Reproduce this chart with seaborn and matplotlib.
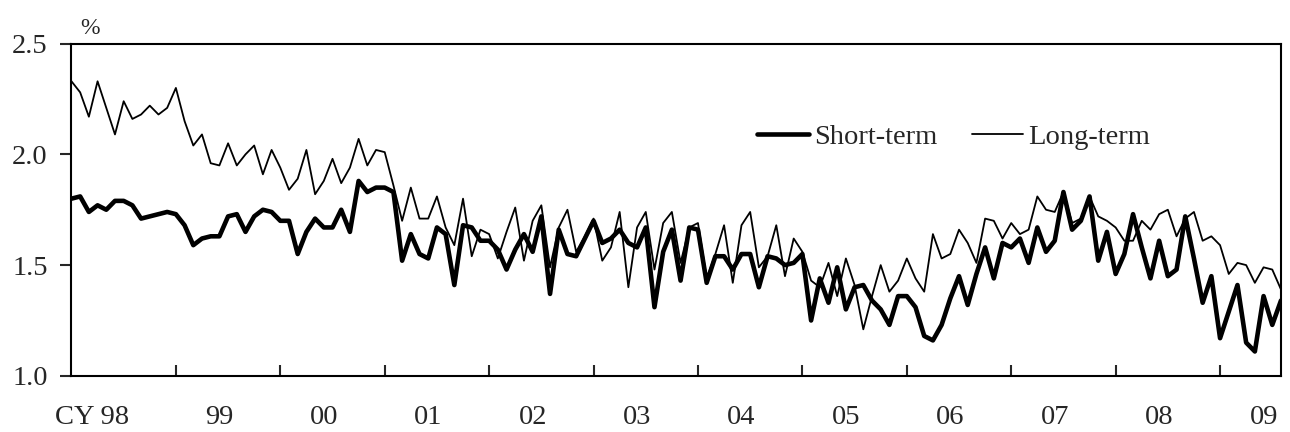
import matplotlib
matplotlib.use("Agg")
import matplotlib.pyplot as plt
import matplotlib.transforms as mtransforms
from matplotlib.ticker import FormatStrFormatter
import numpy as np
import pandas as pd
import seaborn as sns

# monthly rates (%), Jan 1998 onwards
short_term = [
    1.80, 1.81, 1.74, 1.77, 1.75, 1.79, 1.79, 1.77, 1.71, 1.72, 1.73, 1.74,
    1.73, 1.68, 1.59, 1.62, 1.63, 1.63, 1.72, 1.73, 1.65, 1.72, 1.75, 1.74,
    1.70, 1.70, 1.55, 1.65, 1.71, 1.67, 1.67, 1.75, 1.65, 1.88, 1.83, 1.85,
    1.85, 1.83, 1.52, 1.64, 1.55, 1.53, 1.67, 1.64, 1.41, 1.68, 1.67, 1.61,
    1.61, 1.57, 1.48, 1.57, 1.64, 1.56, 1.72, 1.37, 1.66, 1.55, 1.54, 1.62,
    1.70, 1.60, 1.62, 1.66, 1.60, 1.58, 1.67, 1.31, 1.56, 1.66, 1.43, 1.67,
    1.66, 1.42, 1.54, 1.54, 1.48, 1.55, 1.55, 1.40, 1.54, 1.53, 1.50, 1.51,
    1.55, 1.25, 1.44, 1.33, 1.49, 1.30, 1.40, 1.41, 1.34, 1.30, 1.23, 1.36,
    1.36, 1.31, 1.18, 1.16, 1.23, 1.35, 1.45, 1.32, 1.46, 1.58, 1.44, 1.60,
    1.58, 1.62, 1.51, 1.67, 1.56, 1.61, 1.83, 1.66, 1.70, 1.81, 1.52, 1.65,
    1.46, 1.55, 1.73, 1.58, 1.44, 1.61, 1.45, 1.48, 1.72, 1.53, 1.33, 1.45,
    1.17, 1.29, 1.41, 1.15, 1.11, 1.36, 1.23, 1.34,
]
long_term = [
    2.33, 2.28, 2.17, 2.33, 2.21, 2.09, 2.24, 2.16, 2.18, 2.22, 2.18, 2.21,
    2.30, 2.15, 2.04, 2.09, 1.96, 1.95, 2.05, 1.95, 2.00, 2.04, 1.91, 2.02,
    1.94, 1.84, 1.89, 2.02, 1.82, 1.88, 1.98, 1.87, 1.94, 2.07, 1.95, 2.02,
    2.01, 1.86, 1.70, 1.85, 1.71, 1.71, 1.81, 1.67, 1.59, 1.80, 1.54, 1.66,
    1.64, 1.53, 1.65, 1.76, 1.52, 1.70, 1.77, 1.49, 1.67, 1.75, 1.56, 1.63,
    1.71, 1.52, 1.58, 1.74, 1.40, 1.67, 1.74, 1.48, 1.69, 1.74, 1.51, 1.67,
    1.69, 1.44, 1.55, 1.68, 1.42, 1.68, 1.74, 1.49, 1.54, 1.68, 1.45, 1.62,
    1.56, 1.43, 1.40, 1.51, 1.36, 1.53, 1.41, 1.21, 1.36, 1.50, 1.38, 1.43,
    1.53, 1.44, 1.38, 1.64, 1.53, 1.55, 1.66, 1.60, 1.51, 1.71, 1.70, 1.62,
    1.69, 1.64, 1.66, 1.81, 1.75, 1.74, 1.83, 1.69, 1.71, 1.81, 1.72, 1.70,
    1.67, 1.61, 1.61, 1.70, 1.66, 1.73, 1.75, 1.63, 1.71, 1.74, 1.61, 1.63,
    1.59, 1.46, 1.51, 1.50, 1.42, 1.49, 1.48, 1.39,
]
year_labels = ["CY 98", "99", "00", "01", "02", "03", "04", "05", "06", "07", "08", "09"]
y_ticks = [1.0, 1.5, 2.0, 2.5]

n = len(short_term)
df = pd.DataFrame({"month": np.arange(n), "Short-term": short_term, "Long-term": long_term})

sns.set_style("ticks")
plt.rcParams["font.family"] = ["Liberation Serif", "DejaVu Serif"]
fs = 20.5

fig, ax = plt.subplots(figsize=(12.9, 4.32), dpi=100)
fig.subplots_adjust(left=0.0554, right=0.993, top=0.899, bottom=0.130)

sns.lineplot(data=df, x="month", y="Short-term", color="black", linewidth=3.3, ax=ax, label="Short-term")
sns.lineplot(data=df, x="month", y="Long-term", color="black", linewidth=1.3, ax=ax, label="Long-term")

ax.set_xlim(0, n - 1)
ax.set_ylim(1.0, 2.5)
ax.set_xlabel("")
ax.set_ylabel("")

# year boundaries as inward ticks, year names in between
ax.set_xticks(np.arange(12, n, 12))
ax.set_xticklabels([])
ax.set_xticks(np.arange(len(year_labels)) * 12 + 5, minor=True)
ax.set_xticklabels(year_labels, minor=True, fontsize=fs)
ax.tick_params(axis="x", which="major", direction="in", length=8, width=1.5)
ax.tick_params(axis="x", which="minor", length=0, pad=21)

ax.set_yticks(y_ticks)
ax.yaxis.set_major_formatter(FormatStrFormatter("%.1f"))
ax.tick_params(axis="y", direction="out", length=8, width=1.5, pad=9, labelsize=fs)

for sp in ax.spines.values():
    sp.set_visible(True)
    sp.set_linewidth(1.5)
    sp.set_color("black")

# shift "CY 98" so that the "98" sits where the other years do
first = ax.get_xticklabels(minor=True)[0]
first.set_transform(first.get_transform() + mtransforms.ScaledTranslation(-0.23, 0, fig.dpi_scale_trans))

ax.text(0.007, 1.015, "%", transform=ax.transAxes, fontsize=17, ha="left", va="bottom")

ax.legend(ncol=2, frameon=False, loc="center left", bbox_to_anchor=(0.567, 0.719),
          borderaxespad=0, borderpad=0, handlelength=1.8, handletextpad=0.2,
          columnspacing=1.2, fontsize=fs)

fig.savefig("out.png", dpi=100)
